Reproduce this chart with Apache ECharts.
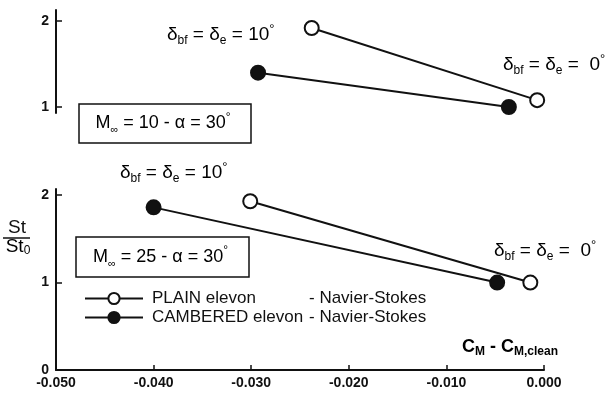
<!DOCTYPE html>
<html>
<head>
<meta charset="utf-8">
<script src="https://cdn.jsdelivr.net/npm/echarts@6/dist/echarts.min.js"></script>
<style>
  html, body { margin: 0; padding: 0; background: #fff; }
  #chart { width: 612px; height: 393px; }
</style>
</head>
<body>
<div id="chart"></div>
<script>
// data
var plainTopX = [-0.0238, -0.0007];
var plainTopY = [1.92, 1.08];
var camberTopX = [-0.0293, -0.0036];
var camberTopY = [1.40, 1.00];
var plainBotX = [-0.0301, -0.0014];
var plainBotY = [1.93, 1.00];
var camberBotX = [-0.0400, -0.0048];
var camberBotY = [1.86, 1.00];
var topYTicks = [1, 2];
var botYTicks = [0, 1, 2];
var seriesNames = ["PLAIN elevon", "CAMBERED elevon"];

var FONT = "'Liberation Sans', Arial, sans-serif";
var INK = "#111";

function pairs(xs, ys) {
  return xs.map(function (x, i) { return [x, ys[i]]; });
}

function lineSeries(name, filled, xi, data) {
  return {
    name: name,
    type: "line",
    xAxisIndex: xi,
    yAxisIndex: xi,
    data: data,
    symbol: "circle",
    symbolSize: 14,
    lineStyle: { color: INK, width: 2 },
    itemStyle: { color: filled ? INK : "#fff", borderColor: INK, borderWidth: 2 },
    emphasis: { disabled: true },
    z: 3
  };
}

var deltaRich = {
  d: { fontSize: 19, fontFamily: FONT, color: INK, lineHeight: 24 },
  s: { fontSize: 12, fontFamily: FONT, color: INK, lineHeight: 12, verticalAlign: "bottom" },
  g: { fontSize: 13, fontFamily: FONT, color: INK, lineHeight: 14, verticalAlign: "top" }
};

function deltaText(x, y, deg) {
  return {
    type: "text",
    style: {
      x: x, y: y, align: "left", verticalAlign: "middle",
      text: "{d|δ}{s|bf}{d| = δ}{s|e}{d| = " + deg + "}{g|°}",
      rich: deltaRich
    },
    z: 10
  };
}

function machBox(x, y, w, h, mach) {
  return [
    {
      type: "rect",
      shape: { x: x, y: y, width: w, height: h },
      style: { fill: "#fff", stroke: INK, lineWidth: 1.5 },
      z: 9
    },
    {
      type: "text",
      style: {
        x: x + w / 2 - 2, y: y + h / 2, align: "center", verticalAlign: "middle",
        text: "{m|M}{s|∞}{m| = " + mach + " - α = 30}{g|°}",
        rich: {
          m: { fontSize: 18, fontFamily: FONT, color: INK, lineHeight: 24 },
          s: { fontSize: 11, fontFamily: FONT, color: INK, lineHeight: 12, verticalAlign: "bottom" },
          g: { fontSize: 12, fontFamily: FONT, color: INK, lineHeight: 14, verticalAlign: "top" }
        }
      },
      z: 10
    }
  ];
}

function yAxisOpt(grid, min, max, ticks) {
  return {
    gridIndex: grid, type: "value", min: min, max: max, position: "left",
    axisLine: { show: true, onZero: false, lineStyle: { color: INK, width: 2 } },
    axisTick: { show: true, inside: true, length: 6, customValues: ticks, lineStyle: { color: INK, width: 1.5 } },
    axisLabel: { customValues: ticks, color: INK, fontFamily: FONT, fontSize: 14, fontWeight: "bold", margin: 7 },
    splitLine: { show: false }
  };
}

var chart = echarts.init(document.getElementById("chart"));
chart.setOption({
  animation: false,
  backgroundColor: "#fff",
  grid: [
    { left: 56, right: 68, top: 10, height: 103 },
    { left: 56, right: 68, top: 189, height: 181 }
  ],
  xAxis: [
    { gridIndex: 0, type: "value", min: -0.05, max: 0, interval: 0.01, show: false },
    {
      gridIndex: 1, type: "value", min: -0.05, max: 0, interval: 0.01,
      axisLine: { onZero: false, lineStyle: { color: INK, width: 2 } },
      axisTick: { inside: true, length: 5, lineStyle: { color: INK, width: 1.5 } },
      axisLabel: {
        color: INK, fontFamily: FONT, fontSize: 14, fontWeight: "bold", margin: 6,
        formatter: function (v) { return Math.abs(v) < 1e-9 ? "0.000" : v.toFixed(3); }
      },
      splitLine: { show: false }
    }
  ],
  yAxis: [
    yAxisOpt(0, 0.93, 2.13, topYTicks),
    yAxisOpt(1, 0, 2.07, botYTicks)
  ],
  legend: {
    orient: "vertical",
    left: 79,
    top: 285,
    itemWidth: 58,
    itemHeight: 14,
    itemGap: 2,
    selectedMode: false,
    data: seriesNames,
    formatter: function (name) { return "{a|" + name + "}{b|- Navier-Stokes}"; },
    textStyle: {
      rich: {
        a: { fontSize: 17, fontFamily: FONT, color: INK, width: 157, padding: [0, 0, 0, 4] },
        b: { fontSize: 17, fontFamily: FONT, color: INK }
      }
    }
  },
  series: [
    lineSeries(seriesNames[0], false, 0, pairs(plainTopX, plainTopY)),
    lineSeries(seriesNames[1], true, 0, pairs(camberTopX, camberTopY)),
    lineSeries(seriesNames[0], false, 1, pairs(plainBotX, plainBotY)),
    lineSeries(seriesNames[1], true, 1, pairs(camberBotX, camberBotY))
  ],
  graphic: [
    deltaText(167, 35, "10"),
    deltaText(503, 65, " 0"),
    deltaText(120, 173, "10"),
    deltaText(494, 251, " 0")
  ].concat(machBox(79, 104, 172, 39, "10"))
   .concat(machBox(76, 237, 173, 40, "25"))
   .concat([
    {
      type: "text",
      style: { x: 17, y: 228, align: "center", verticalAlign: "middle", text: "St",
        font: "19px " + FONT, fill: INK }
    },
    {
      type: "line",
      shape: { x1: 3, y1: 238, x2: 30, y2: 238 },
      style: { stroke: INK, lineWidth: 1.5 }
    },
    {
      type: "text",
      style: { x: 18, y: 247, align: "center", verticalAlign: "middle",
        text: "{a|St}{b|0}",
        rich: {
          a: { fontSize: 19, fontFamily: FONT, color: INK, lineHeight: 20 },
          b: { fontSize: 12, fontFamily: FONT, color: INK, lineHeight: 12, verticalAlign: "bottom" }
        }
      }
    },
    {
      type: "text",
      style: { x: 462, y: 347, align: "left", verticalAlign: "middle",
        text: "{c|C}{s|M}{c| - C}{s|M,clean}",
        rich: {
          c: { fontSize: 18, fontWeight: "bold", fontFamily: FONT, color: INK, lineHeight: 22 },
          s: { fontSize: 12, fontWeight: "bold", fontFamily: FONT, color: INK, lineHeight: 12, verticalAlign: "bottom" }
        }
      }
    }
  ])
});
window.addEventListener("resize", function () { chart.resize(); });
</script>
</body>
</html>
